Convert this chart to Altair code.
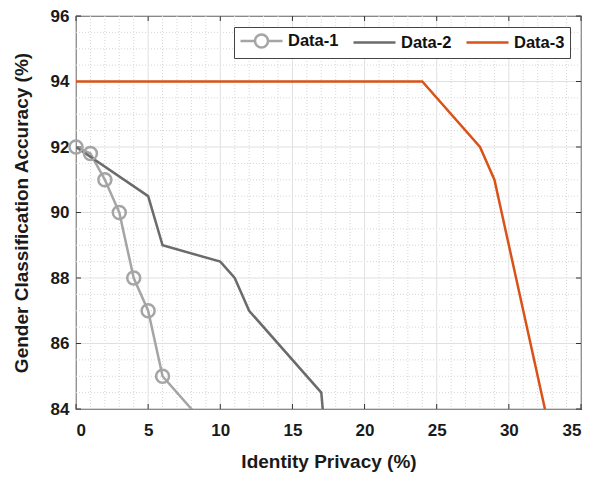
import altair as alt
import pandas as pd

# ---- data ----
series_names = ["Data-1", "Data-2", "Data-3"]
series_colors = ["#a5a5a5", "#6b6b6b", "#d95319"]

d1_x = [0, 1, 2, 3, 4, 5, 6, 9]
d1_y = [92, 91.8, 91, 90, 88, 87, 85, 83.5]
d2_x = [0, 5, 6, 10, 11, 12, 17, 17.3]
d2_y = [92, 90.5, 89, 88.5, 88, 87, 84.5, 83]
d3_x = [0, 24, 28, 29, 33]
d3_y = [94, 94, 92, 91, 83]

x_ticks = [0, 5, 10, 15, 20, 25, 30, 35]
y_ticks = [84, 86, 88, 90, 92, 94, 96]
x_minor = [v for v in range(0, 36) if v % 5 != 0]
y_minor = [84 + 0.5 * i for i in range(25) if (i % 4) != 0]

W, H = 505, 393
FONT = "Liberation Sans"

rows = []
for name, xs, ys in zip(series_names, [d1_x, d2_x, d3_x], [d1_y, d2_y, d3_y]):
    for i, (a, b) in enumerate(zip(xs, ys)):
        rows.append({"series": name, "x": a, "y": b, "idx": i})
df = pd.DataFrame(rows)

xscale = alt.Scale(domain=[0, 35], nice=False, zero=False)
yscale = alt.Scale(domain=[84, 96], nice=False, zero=False)

xmin_df = pd.DataFrame({"v": x_minor})
ymin_df = pd.DataFrame({"v": y_minor})
xmaj_df = pd.DataFrame({"v": x_ticks})
ymaj_df = pd.DataFrame({"v": y_ticks})

grid_x_minor = alt.Chart(xmin_df).mark_rule(color="#d6d6d6", strokeDash=[1, 2], strokeWidth=1).encode(
    x=alt.X("v:Q", scale=xscale))
grid_y_minor = alt.Chart(ymin_df).mark_rule(color="#d6d6d6", strokeDash=[1, 2], strokeWidth=1).encode(
    y=alt.Y("v:Q", scale=yscale))
grid_x_major = alt.Chart(xmaj_df).mark_rule(color="#e0e0e0", strokeWidth=1).encode(
    x=alt.X("v:Q", scale=xscale))
grid_y_major = alt.Chart(ymaj_df).mark_rule(color="#e0e0e0", strokeWidth=1).encode(
    y=alt.Y("v:Q", scale=yscale))

tick_col = "#333333"
ticks_bottom = alt.Chart(xmaj_df).mark_rule(color=tick_col).encode(
    x=alt.X("v:Q", scale=xscale), y=alt.value(H), y2=alt.value(H - 5))
ticks_top = alt.Chart(xmaj_df).mark_rule(color=tick_col).encode(
    x=alt.X("v:Q", scale=xscale), y=alt.value(0), y2=alt.value(5))
ticks_left = alt.Chart(ymaj_df).mark_rule(color=tick_col).encode(
    y=alt.Y("v:Q", scale=yscale), x=alt.value(0), x2=alt.value(5))
ticks_right = alt.Chart(ymaj_df).mark_rule(color=tick_col).encode(
    y=alt.Y("v:Q", scale=yscale), x=alt.value(W), x2=alt.value(W - 5))

color_scale = alt.Scale(domain=series_names, range=series_colors)

# legend symbols: wide line (with a circle for Data-1), extending to the right of the unit box
circle_line = ("M-1,0L1.07,0M2.93,0A0.93,0.93,0,1,1,1.07,0"
               "A0.93,0.93,0,1,1,2.93,0M2.93,0L5,0")
plain_line = "M-1,0L5,0"
shape_scale = alt.Scale(domain=series_names, range=[circle_line, plain_line, plain_line])

legend = alt.Legend(
    title=None, orient="top-right", offset=11, direction="horizontal",
    strokeColor="#444444", fillColor="white", padding=5,
    labelFont=FONT, labelFontSize=16.5, labelFontWeight="bold", labelColor="#111111",
    symbolSize=196, symbolStrokeWidth=2.5, symbolOpacity=1, labelOffset=32,
    columnPadding=9, cornerRadius=0,
)

axis_style = dict(
    labelFont=FONT, labelFontSize=17, labelFontWeight="bold", labelColor="#1a1a1a",
    titleFont=FONT, titleFontSize=19, titleFontWeight="bold", titleColor="#1a1a1a",
    grid=False, ticks=False, domain=False,
)

lines = alt.Chart(df).mark_line(strokeWidth=2.5, clip=True).encode(
    x=alt.X("x:Q", scale=xscale,
            axis=alt.Axis(values=x_ticks, title="Identity Privacy (%)",
                          labelPadding=13, titlePadding=14, **axis_style)),
    y=alt.Y("y:Q", scale=yscale,
            axis=alt.Axis(values=y_ticks, title="Gender Classification Accuracy (%)",
                          labelPadding=7, titlePadding=19, **axis_style)),
    color=alt.Color("series:N", scale=color_scale, legend=legend),
    order="idx:Q",
)

markers = alt.Chart(df).transform_filter(
    (alt.datum.series == "Data-1") & (alt.datum.y >= 84)
).mark_point(
    shape="circle", filled=False, size=169, strokeWidth=2.5, color=series_colors[0], opacity=1
).encode(
    x=alt.X("x:Q", scale=xscale),
    y=alt.Y("y:Q", scale=yscale),
)

legend_layer = alt.Chart(df).transform_filter("false").mark_point(
    filled=False, size=196, strokeWidth=2.5, opacity=1
).encode(
    x=alt.X("x:Q", scale=xscale),
    y=alt.Y("y:Q", scale=yscale),
    color=alt.Color("series:N", scale=color_scale, legend=legend),
    shape=alt.Shape("series:N", scale=shape_scale, legend=legend),
)

chart = alt.layer(
    grid_x_minor, grid_y_minor, grid_x_major, grid_y_major,
    ticks_bottom, ticks_top, ticks_left, ticks_right,
    lines, markers, legend_layer,
).properties(
    width=W, height=H,
    autosize=alt.AutoSizeParams(type="none"),
    padding={"left": 68, "top": 8, "right": 5, "bottom": 64},
).configure_view(
    stroke="#333333", strokeWidth=1.2
)

chart.save("out.html", embed_options={"renderer": "svg", "actions": False})
